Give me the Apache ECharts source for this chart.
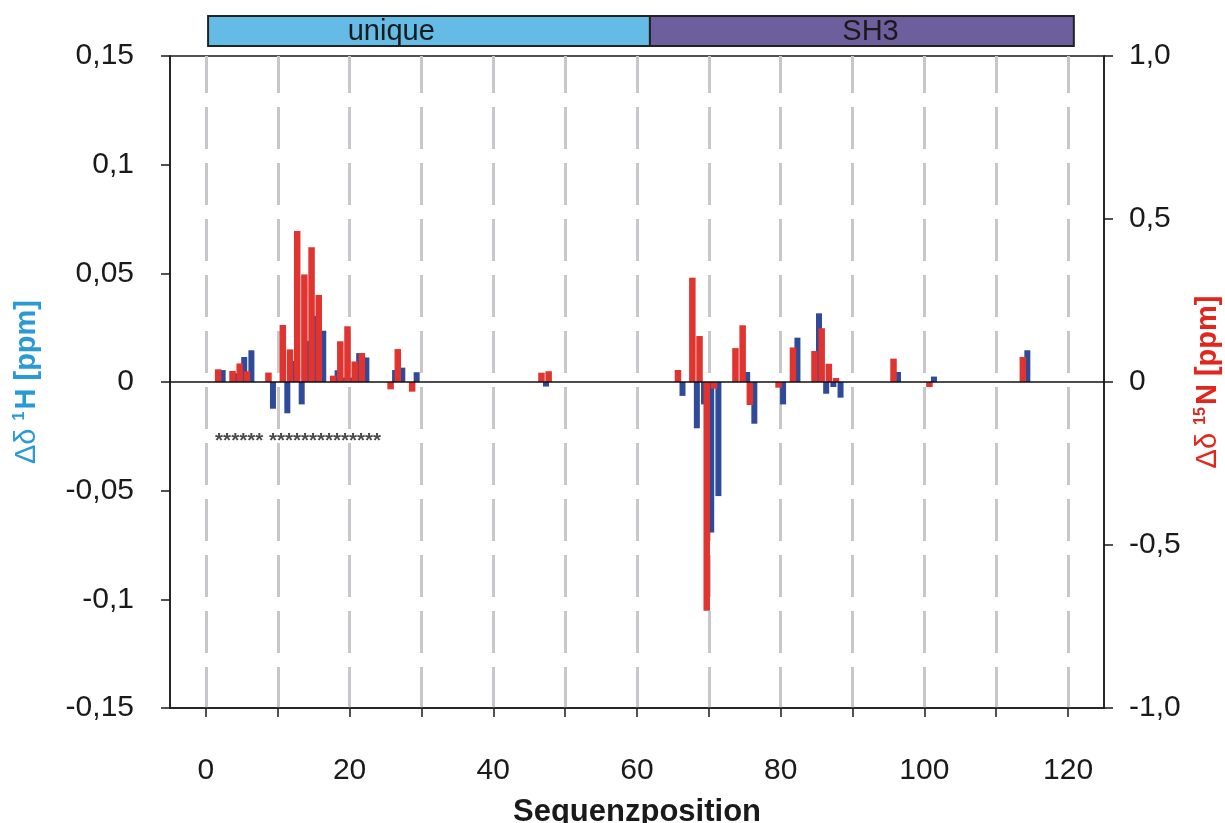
<!DOCTYPE html>
<html>
<head>
<meta charset="utf-8">
<script src="https://cdn.jsdelivr.net/npm/echarts@6/dist/echarts.min.js"></script>
<style>
  html, body { margin: 0; padding: 0; background: #ffffff; }
  #chart { width: 1225px; height: 823px; }
</style>
</head>
<body>
<div id="chart"></div>
<script>
// Sequence range shown on the x axis
const residueFirst = -5;
const residueLast = 125;

// Residues with measured chemical shift changes
const residues = [2, 4, 5, 6, 9, 11, 12, 13, 14, 15, 16, 18, 19, 20, 21, 22, 26, 27, 29,
  47, 48, 66, 68, 69, 70, 71, 74, 75, 76, 80, 82, 85, 86, 87, 88, 96, 101, 114];

// Δδ 1H [ppm] (left axis)
const deltaH = [0.0055, 0.004, 0.0115, 0.0146, -0.0123, -0.0144, 0.0097, -0.0103, 0.0189, 0.0304, 0.0236, 0.0054, 0.002, 0.002, 0.0133, 0.0113, 0.0055, 0.0066, 0.0045,
  -0.0021, null, -0.0064, -0.0213, -0.0103, -0.0693, -0.0525, null, 0.0046, -0.0192, -0.0103, 0.0204, 0.0316, -0.0054, -0.0023, -0.0072, 0.0046, 0.0025, 0.0146];

// Δδ 15N [ppm] (right axis)
const deltaN = [0.039, 0.034, 0.057, 0.033, 0.029, 0.175, 0.100, 0.463, 0.330, 0.413, 0.267, 0.0194, 0.125, 0.171, 0.063, 0.089, -0.0225, 0.101, -0.0297,
  0.0286, 0.033, 0.0368, 0.320, 0.141, -0.702, -0.0205, 0.104, 0.174, -0.0706, -0.0174, 0.106, 0.095, 0.165, 0.056, 0.0123, 0.0716, -0.0153, 0.0767];

// Tick labels
const leftTickLabels = ['-0,15', '-0,1', '-0,05', '0', '0,05', '0,1', '0,15'];
const rightTickLabels = ['-1,0', '-0,5', '0', '0,5', '1,0'];

// Domain bar above the plot
const domainNames = ['unique', 'SH3'];
const domainStart = [0.3, 61.8];
const domainEnd = [61.8, 120.8];
const domainLabelAt = [25.8, 92.5];

// Asterisk annotation below the zero line
const assignedMark = '****** **************';
const assignedMarkAt = ['1', -0.0271];

const FONT = "'Liberation Sans', Arial, sans-serif";
const BLUE = '#2e4a98';
const RED = '#df342f';
const TITLE_BLUE = '#2a9ad7';
const TITLE_RED = '#e1261d';
const DOMAIN_COLORS = ['#63bbe6', '#6d5f9d'];

const categories = [];
for (let r = residueFirst; r <= residueLast; r++) categories.push(String(r));
const hData = categories.map(() => null);
const nData = categories.map(() => null);
residues.forEach((r, i) => {
  hData[r - residueFirst] = deltaH[i];
  nData[r - residueFirst] = deltaN[i];
});

const domainData = domainNames.map((name, i) => [domainStart[i], domainEnd[i], domainLabelAt[i], name]);

const chart = echarts.init(document.getElementById('chart'), null, { renderer: 'canvas' });

function axisTitle(color, sup, rest) {
  return {
    name: '{d|Δδ }{s|' + sup + '}{b|' + rest + '}',
    style: {
      color: color,
      rich: {
        d: { fontSize: 29, color: color, fontFamily: FONT },
        s: { fontSize: 16, color: color, fontWeight: 'bold', fontFamily: FONT, verticalAlign: 'top', padding: [0, 2, 0, 0] },
        b: { fontSize: 29, color: color, fontWeight: 'bold', fontFamily: FONT }
      }
    }
  };
}
const leftTitle = axisTitle(TITLE_BLUE, '1', 'H [ppm]');
const rightTitle = axisTitle(TITLE_RED, '15', 'N [ppm]');

const option = {
  animation: false,
  backgroundColor: '#ffffff',
  textStyle: { fontFamily: FONT },
  grid: [
    {
      left: 170, right: 121, top: 56, bottom: 115,
      containLabel: false, outerBoundsMode: 'none',
      show: true, borderColor: '#1a1a1a', borderWidth: 1.5, backgroundColor: 'transparent'
    },
    { left: 170, right: 121, top: 16, height: 30, containLabel: false, outerBoundsMode: 'none' }
  ],
  xAxis: [
    {
      type: 'category',
      gridIndex: 0,
      data: categories,
      boundaryGap: false,
      axisLine: { show: true, onZero: false, lineStyle: { color: '#1a1a1a', width: 1.5 } },
      axisTick: {
        show: true, length: 9, inside: false,
        interval: (idx, val) => Number(val) % 10 === 0,
        lineStyle: { color: '#1a1a1a', width: 1.5 }
      },
      axisLabel: {
        interval: (idx, val) => Number(val) % 20 === 0,
        fontSize: 30, color: '#1a1a1a', margin: 48, fontFamily: FONT
      },
      splitLine: {
        show: true,
        interval: (idx, val) => Number(val) % 10 === 0,
        lineStyle: { color: '#c7c7cb', width: 3, type: [42, 14], dashOffset: 5 }
      },
      name: 'Sequenzposition',
      nameLocation: 'middle',
      nameGap: 89,
      nameTextStyle: { fontSize: 31, fontWeight: 'bold', color: '#1a1a1a', fontFamily: FONT }
    },
    { type: 'value', gridIndex: 1, min: residueFirst, max: residueLast, show: false }
  ],
  yAxis: [
    {
      type: 'value', gridIndex: 0, position: 'left',
      min: -0.15, max: 0.15, interval: 0.05,
      axisLine: { show: true, onZero: false, lineStyle: { color: '#1a1a1a', width: 1.5 } },
      axisTick: { show: true, length: 9, lineStyle: { color: '#1a1a1a', width: 1.5 } },
      axisLabel: {
        fontSize: 30, color: '#1a1a1a', margin: 36, fontFamily: FONT,
        formatter: v => leftTickLabels[Math.round((v + 0.15) / 0.05)]
      },
      splitLine: { show: false },
      name: leftTitle.name,
      nameLocation: 'middle',
      nameRotate: 90,
      nameGap: 129,
      nameTextStyle: leftTitle.style
    },
    {
      type: 'value', gridIndex: 0, position: 'right',
      min: -1, max: 1, interval: 0.5,
      axisLine: { show: true, onZero: false, lineStyle: { color: '#1a1a1a', width: 1.5 } },
      axisTick: { show: true, length: 9, lineStyle: { color: '#1a1a1a', width: 1.5 } },
      axisLabel: {
        fontSize: 30, color: '#1a1a1a', margin: 25, fontFamily: FONT,
        formatter: v => rightTickLabels[Math.round((v + 1) / 0.5)]
      },
      splitLine: { show: false },
      name: rightTitle.name,
      nameLocation: 'middle',
      nameRotate: 90,
      nameGap: 89,
      nameTextStyle: rightTitle.style
    },
    { type: 'value', gridIndex: 1, min: 0, max: 1, show: false }
  ],
  series: [
    {
      name: 'Δδ 15N',
      type: 'bar',
      xAxisIndex: 0, yAxisIndex: 1,
      data: nData,
      barWidth: 6.5,
      barGap: '-26.9%',
      z: 3,
      itemStyle: { color: RED }
    },
    {
      name: 'Δδ 1H',
      type: 'bar',
      xAxisIndex: 0, yAxisIndex: 0,
      data: hData,
      barWidth: 6,
      z: 2,
      itemStyle: { color: BLUE },
      markLine: {
        silent: true,
        symbol: ['none', 'none'],
        label: { show: false },
        z: 10,
        lineStyle: { color: '#111111', width: 1.5, type: 'solid' },
        data: [{ yAxis: 0 }]
      }
    },
    {
      type: 'scatter',
      xAxisIndex: 0, yAxisIndex: 0,
      symbolSize: 0,
      data: [assignedMarkAt],
      z: 5,
      label: {
        show: true, position: 'right', distance: 2,
        formatter: () => assignedMark,
        fontSize: 20.6, fontWeight: 'bold', color: '#1a1a1a', fontFamily: FONT
      }
    },
    {
      type: 'custom',
      xAxisIndex: 1, yAxisIndex: 2,
      clip: false,
      data: domainData,
      renderItem: (params, api) => {
        const p0 = api.coord([api.value(0), 1]);
        const p1 = api.coord([api.value(1), 0]);
        const pl = api.coord([api.value(2), 0.5]);
        const i = params.dataIndex;
        return {
          type: 'group',
          children: [
            {
              type: 'rect',
              shape: { x: p0[0], y: p0[1], width: p1[0] - p0[0], height: p1[1] - p0[1] },
              style: { fill: DOMAIN_COLORS[i], stroke: '#222222', lineWidth: 2 }
            },
            {
              type: 'text',
              x: pl[0], y: pl[1] + 1,
              style: {
                text: domainNames[i], fill: '#1a1a1a', fontSize: 29, fontFamily: FONT,
                align: 'center', verticalAlign: 'middle'
              }
            }
          ]
        };
      }
    }
  ]
};

chart.setOption(option);
</script>
</body>
</html>
